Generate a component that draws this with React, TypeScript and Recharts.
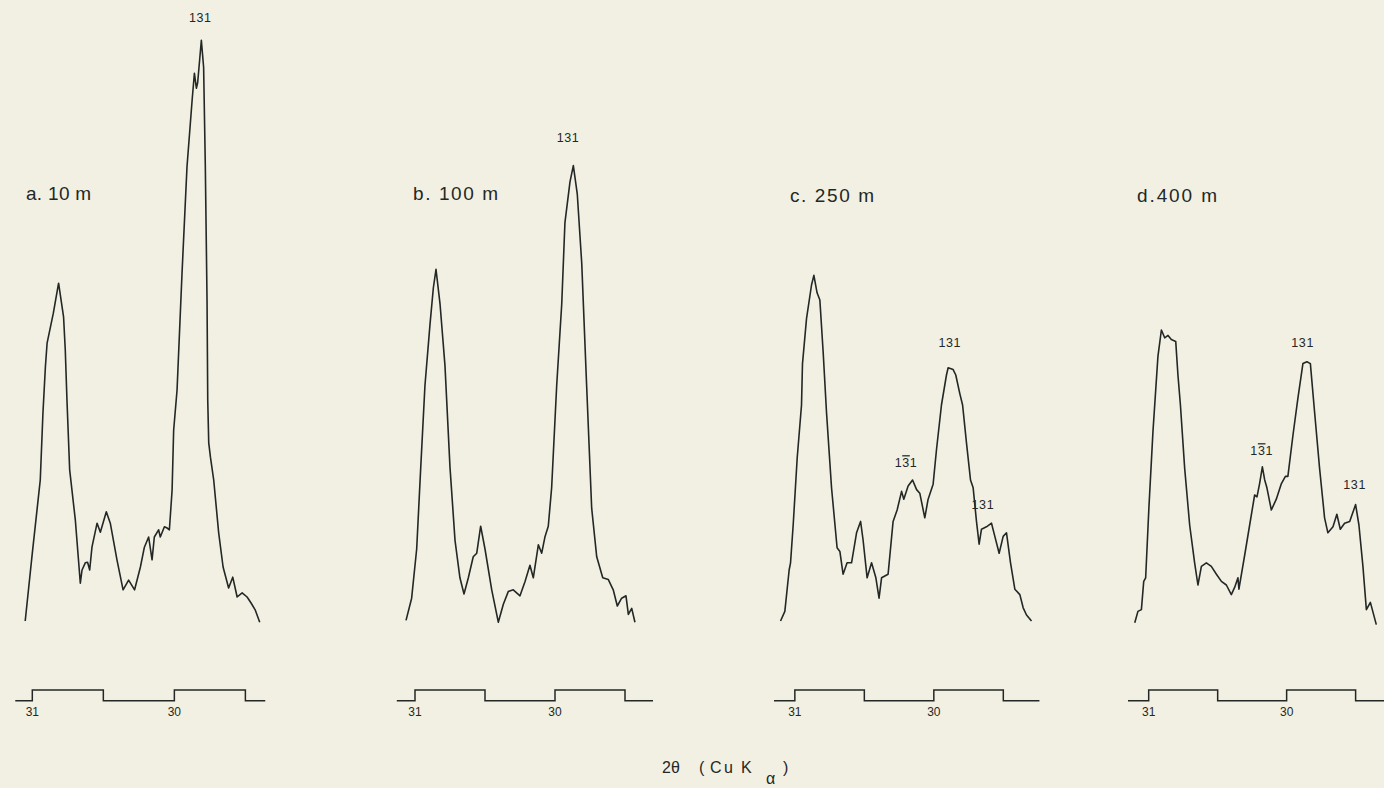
import React from 'react';
import { LineChart, Line, XAxis, YAxis, ReferenceDot } from 'recharts';

const BG = '#f2f0e3';
const INK = '#232826';
const FONT = '"Liberation Sans", Arial, sans-serif';

// 2θ (degrees) vs. relative intensity
const scanA: [number, number][] = [
  [31.05, 0], [31.0, 11.3], [30.944, 23.5], [30.925, 34.7], [30.908, 42.3], [30.896, 46.3],
  [30.852, 51.3], [30.815, 56.3], [30.78, 50.7], [30.768, 45.2], [30.756, 36.8], [30.737, 25.2],
  [30.697, 16.8], [30.662, 6.3], [30.65, 8.5], [30.627, 9.7], [30.611, 9.8], [30.596, 8.5],
  [30.58, 12.3], [30.544, 16.3], [30.521, 14.8], [30.479, 18.2], [30.451, 16.3], [30.404, 10.2],
  [30.361, 5.2], [30.322, 6.8], [30.28, 5.2], [30.239, 9.0], [30.211, 12.3], [30.181, 14.0],
  [30.157, 10.2], [30.141, 14.0], [30.111, 15.2], [30.099, 14.0], [30.07, 15.7], [30.051, 15.5],
  [30.035, 15.2], [30.016, 21.8], [30.005, 31.8], [29.981, 38.5], [29.946, 58.0], [29.911, 75.7],
  [29.875, 86.8], [29.859, 91.3], [29.845, 88.8], [29.836, 89.7], [29.822, 93.5], [29.81, 96.8],
  [29.794, 92.3], [29.782, 75.7], [29.77, 53.5], [29.765, 36.8], [29.758, 29.7], [29.746, 27.3],
  [29.723, 23.5], [29.688, 14.7], [29.657, 9.0], [29.618, 5.5], [29.589, 7.3], [29.558, 4.0],
  [29.523, 4.7], [29.488, 4.0], [29.46, 3.0], [29.43, 1.8], [29.399, -0.2],
];

const scanB: [number, number][] = [
  [31.064, 0.1], [31.024, 3.8], [30.988, 12.0], [30.959, 25.6], [30.929, 39.2], [30.893, 49.4],
  [30.869, 55.5], [30.85, 58.6], [30.821, 52.8], [30.786, 42.6], [30.75, 25.6], [30.714, 13.4],
  [30.679, 7.2], [30.65, 4.5], [30.619, 7.2], [30.584, 10.7], [30.559, 11.3], [30.531, 15.8],
  [30.5, 12.0], [30.452, 5.2], [30.405, -0.2], [30.369, 2.8], [30.334, 4.9], [30.298, 5.2],
  [30.25, 4.2], [30.214, 6.6], [30.179, 9.3], [30.155, 7.2], [30.119, 12.7], [30.095, 11.3],
  [30.071, 14.1], [30.048, 15.8], [30.024, 22.2], [29.988, 39.2], [29.952, 52.8], [29.929, 66.4],
  [29.893, 73.2], [29.869, 75.9], [29.841, 71.2], [29.809, 59.6], [29.774, 39.2], [29.738, 18.8],
  [29.702, 10.7], [29.659, 7.2], [29.619, 6.9], [29.584, 5.2], [29.555, 2.5], [29.524, 3.8],
  [29.493, 4.2], [29.476, 1.1], [29.452, 2.1], [29.429, -0.2],
];

const scanC: [number, number][] = [
  [31.103, 0.0], [31.072, 1.6], [31.041, 8.5], [31.031, 9.7], [31.012, 16.0], [30.983, 27.2],
  [30.952, 36.0], [30.945, 42.9], [30.916, 50.4], [30.88, 56.0], [30.863, 57.6], [30.84, 54.7],
  [30.82, 53.5], [30.796, 44.7], [30.772, 34.7], [30.736, 22.2], [30.696, 12.2], [30.676, 11.6],
  [30.653, 7.8], [30.624, 9.7], [30.592, 9.7], [30.556, 14.7], [30.527, 16.6], [30.509, 13.5],
  [30.48, 7.2], [30.448, 9.7], [30.417, 7.2], [30.394, 3.8], [30.376, 7.2], [30.329, 7.8],
  [30.293, 16.6], [30.264, 18.5], [30.232, 21.6], [30.216, 20.3], [30.185, 22.5], [30.153, 23.5],
  [30.124, 21.9], [30.101, 21.3], [30.065, 17.2], [30.041, 20.3], [30.005, 22.8], [29.981, 28.5],
  [29.945, 36.0], [29.909, 41.0], [29.897, 42.2], [29.861, 41.9], [29.842, 41.0], [29.813, 37.9],
  [29.793, 36.0], [29.765, 29.7], [29.736, 23.5], [29.717, 22.2], [29.693, 16.6], [29.674, 12.8],
  [29.657, 15.3], [29.621, 15.7], [29.585, 16.3], [29.561, 14.1], [29.53, 11.3], [29.501, 14.1],
  [29.477, 14.7], [29.448, 9.7], [29.417, 5.3], [29.381, 4.4], [29.357, 2.2], [29.333, 1.0],
  [29.297, 0.0],
];

const scanD: [number, number][] = [
  [31.101, -0.3], [31.078, 1.6], [31.053, 1.9], [31.036, 6.6], [31.022, 7.2], [30.998, 19.1],
  [30.969, 31.6], [30.933, 44.1], [30.908, 48.5], [30.884, 47.2], [30.86, 47.6], [30.836, 46.9],
  [30.804, 46.6], [30.788, 41.0], [30.77, 36.0], [30.739, 25.4], [30.703, 16.0], [30.667, 9.7],
  [30.643, 6.0], [30.618, 9.1], [30.582, 9.7], [30.546, 9.1], [30.509, 7.8], [30.473, 6.6],
  [30.437, 6.0], [30.401, 4.4], [30.377, 5.6], [30.353, 7.2], [30.346, 5.3], [30.304, 11.0],
  [30.268, 16.0], [30.232, 21.0], [30.215, 20.7], [30.196, 22.9], [30.176, 25.7], [30.159, 23.5],
  [30.143, 22.2], [30.111, 18.5], [30.075, 20.3], [30.038, 22.9], [30.009, 24.1], [29.991, 24.1],
  [29.954, 31.0], [29.918, 37.2], [29.882, 42.9], [29.853, 43.2], [29.828, 42.9], [29.797, 34.7],
  [29.761, 25.4], [29.725, 17.2], [29.701, 14.7], [29.664, 15.7], [29.636, 17.8], [29.611, 15.3],
  [29.58, 16.3], [29.543, 16.6], [29.5, 19.4], [29.476, 16.0], [29.447, 9.1], [29.422, 1.9],
  [29.393, 3.1], [29.35, -0.6],
];

// peak annotations
type PeakLabel = { t: number; i: number; text: string; bar?: boolean };
const labelsA: PeakLabel[] = [{ t: 29.817, i: 100.5, text: '131' }];
const labelsB: PeakLabel[] = [{ t: 29.907, i: 80.5, text: '131' }];
const labelsC: PeakLabel[] = [
  { t: 29.885, i: 46.3, text: '131' },
  { t: 30.2, i: 26.3, text: '131', bar: true },
  { t: 29.647, i: 19.3, text: '131' },
];
const labelsD: PeakLabel[] = [
  { t: 29.884, i: 46.3, text: '131' },
  { t: 30.181, i: 28.3, text: '131', bar: true },
  { t: 29.507, i: 22.7, text: '131' },
];

// chart-drive marker line (steps every 0.5°)
const markerEdges = [31, 30.5, 30, 29.5];
const MARK_LOW = -13.3;
const MARK_HIGH = -11.5;
const xTicks = [31, 30];

const panels = [
  { key: 'a', title: 'a. 10 m', scan: scanA, labels: labelsA, left: 10.7, width: 277, start: 31.12, end: 29.36, tx: 26, ty: 200, ls: 0.3 },
  { key: 'b', title: 'b. 100 m', scan: scanB, labels: labelsB, left: 394, width: 273, start: 31.13, end: 29.3, tx: 413, ty: 200, ls: 1.6 },
  { key: 'c', title: 'c. 250 m', scan: scanC, labels: labelsC, left: 774.2, width: 271, start: 31.15, end: 29.24, tx: 790, ty: 202, ls: 1.6 },
  { key: 'd', title: 'd.400 m', scan: scanD, labels: labelsD, left: 1128.3, width: 269, start: 31.15, end: 29.2, tx: 1137, ty: 202, ls: 1.9 },
];

function LabelShape(props: any) {
  const { cx, cy, lab } = props;
  if (cx == null || cy == null) return null;
  const chars = lab.text.split('');
  return (
    <text x={cx} y={cy} textAnchor="middle" dominantBaseline="central" fontSize={12.5} fill={INK} fontFamily={FONT} letterSpacing={0.6}>
      {lab.bar ? (
        <>
          <tspan>{chars[0]}</tspan>
          <tspan style={{ textDecoration: 'overline' }}>{chars[1]}</tspan>
          <tspan>{chars[2]}</tspan>
        </>
      ) : (
        lab.text
      )}
    </text>
  );
}

function Panel({ p }: { p: (typeof panels)[number] }) {
  const data = p.scan.map(([t, i]) => ({ t, i }));
  const marker = [
    { t: p.start, i: MARK_LOW },
    { t: markerEdges[0], i: MARK_HIGH },
    { t: markerEdges[1], i: MARK_LOW },
    { t: markerEdges[2], i: MARK_HIGH },
    { t: markerEdges[3], i: MARK_LOW },
    { t: p.end, i: MARK_LOW },
  ];
  return (
    <div style={{ position: 'absolute', left: p.left, top: 0 }}>
      <LineChart width={p.width} height={725} margin={{ top: 0, right: 0, bottom: 0, left: 0 }}>
        <XAxis
          type="number"
          dataKey="t"
          domain={[29.2, 31.15]}
          reversed
          allowDataOverflow
          ticks={xTicks}
          interval={0}
          axisLine={false}
          tickLine={false}
          tickSize={0}
          tickMargin={2}
          height={20}
          tick={{ fontSize: 12, fill: INK, fontFamily: FONT }}
        />
        <YAxis type="number" domain={[-14, 103.5]} hide allowDataOverflow />
        <Line data={marker} dataKey="i" type="stepAfter" stroke={INK} strokeWidth={1.5} dot={false} isAnimationActive={false} />
        <Line data={data} dataKey="i" type="linear" stroke={INK} strokeWidth={1.6} dot={false} isAnimationActive={false} strokeLinejoin="round" />
        {p.labels.map((lab, k) => (
          <ReferenceDot
            key={k}
            x={lab.t}
            y={lab.i}
            r={0}
            ifOverflow="visible"
            shape={(sp: any) => <LabelShape {...sp} lab={lab} />}
          />
        ))}
      </LineChart>
    </div>
  );
}

export default function App() {
  return (
    <div style={{ position: 'absolute', left: 0, top: 0, width: 1384, height: 788, background: BG, overflow: 'hidden' }}>
      {panels.map((p) => (
        <Panel key={p.key} p={p} />
      ))}
      <svg width={1384} height={788} style={{ position: 'absolute', left: 0, top: 0, pointerEvents: 'none' }}>
        {panels.map((p) => (
          <text key={p.key} x={p.tx} y={p.ty} fontSize={19} fill={INK} fontFamily={FONT} letterSpacing={p.ls}>
            {p.title}
          </text>
        ))}
        <g fontFamily={FONT} fontSize={16} fill={INK}>
          <text x={662} y={773}>2θ</text>
          <text x={699} y={773}>(</text>
          <text x={710} y={773}>C</text>
          <text x={724} y={773}>u</text>
          <text x={741} y={773}>K</text>
          <text x={766} y={784}>α</text>
          <text x={783} y={773}>)</text>
        </g>
      </svg>
    </div>
  );
}
